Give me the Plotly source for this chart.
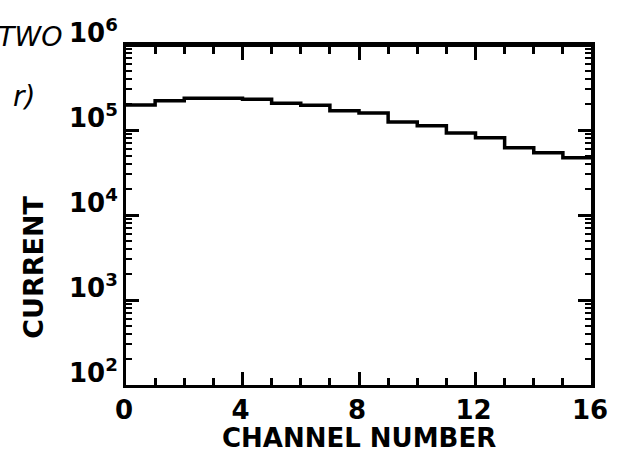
import plotly.graph_objects as go

# Data
channel_edges = list(range(0, 17))
current_values = [1.97e5, 2.21e5, 2.36e5, 2.36e5, 2.30e5, 2.06e5, 1.95e5, 1.69e5,
                  1.58e5, 1.24e5, 1.12e5, 9.2e4, 8.1e4, 6.2e4, 5.4e4, 4.7e4]
x_tick_vals = [0, 4, 8, 12, 16]
x_tick_text = ["0", "4", "8", "12", "16"]
y_tick_vals = [1e2, 1e3, 1e4, 1e5, 1e6]
y_tick_text = ["10<sup>2</sup>", "10<sup>3</sup>", "10<sup>4</sup>", "10<sup>5</sup>", "10<sup>6</sup>"]
y_minor_vals = [m * 10 ** k for k in range(2, 6) for m in range(2, 10)]

step_y = current_values + [current_values[-1]]

FONT = "DejaVu Sans"

fig = go.Figure()
fig.add_trace(go.Scatter(
    x=channel_edges, y=step_y, mode="lines",
    line=dict(shape="hv", color="black", width=3.5),
    showlegend=False, hoverinfo="skip"))
# invisible trace so the mirrored tick axes render
fig.add_trace(go.Scatter(x=[0], y=[1e3], xaxis="x2", yaxis="y2", mode="markers",
                         marker=dict(opacity=0), showlegend=False, hoverinfo="skip"))

common_tick = dict(ticks="inside", ticklen=13, tickwidth=2.5, tickcolor="black",
                   showgrid=False, zeroline=False)

fig.update_layout(
    xaxis=dict(range=[0, 16], tickvals=x_tick_vals, ticktext=x_tick_text,
               showline=True, linewidth=3, linecolor="black", mirror="allticks",
               ticklabeloverflow="allow", ticklabelshift=-2,
               tickfont=dict(family=FONT, size=26, color="black", weight="bold"),
               minor=dict(dtick=1, ticks="inside", ticklen=7, tickwidth=2.5,
                          tickcolor="black", showgrid=False),
               **common_tick),
    xaxis2=dict(range=[0, 16], overlaying="x", side="top", anchor="free", position=1.0,
                tickvals=x_tick_vals, showticklabels=False,
                showline=True, linewidth=3, linecolor="black",
                minor=dict(dtick=1, ticks="inside", ticklen=7, tickwidth=2.5,
                           tickcolor="black", showgrid=False),
                **common_tick),
    yaxis=dict(type="log", range=[2, 6], tickvals=y_tick_vals, ticktext=y_tick_text,
               showline=True, linewidth=3, linecolor="black", mirror=True,
               ticklabelshift=-12, ticklabeloverflow="allow",
               tickfont=dict(family=FONT, size=26, color="black", weight="bold"),
               minor=dict(tickvals=y_minor_vals, ticks="inside", ticklen=6, tickwidth=2,
                          tickcolor="black", showgrid=False),
               **common_tick),
    yaxis2=dict(type="log", range=[2, 6], overlaying="y", side="right", anchor="free", position=1.0,
                tickvals=y_tick_vals, showticklabels=False,
                showline=True, linewidth=3, linecolor="black",
                minor=dict(tickvals=y_minor_vals, ticks="inside", ticklen=6, tickwidth=2,
                           tickcolor="black", showgrid=False),
                **common_tick),
)

fig.add_annotation(text="CHANNEL NUMBER", xref="paper", yref="paper",
                   x=0.5, y=-0.155, yanchor="middle", xanchor="center", showarrow=False,
                   font=dict(family=FONT, size=26, color="black", weight="bold"))
fig.add_annotation(text="CURRENT", xref="paper", yref="paper",
                   x=-0.2, y=0.347, textangle=-90, xanchor="center", yanchor="middle", showarrow=False,
                   font=dict(family=FONT, size=27, color="black", weight="bold"))
fig.add_annotation(text="<i>TWO</i>", xref="paper", yref="paper",
                   x=-0.134, y=1.024, xanchor="right", yanchor="middle", showarrow=False,
                   font=dict(family=FONT, size=27, color="black"))
fig.add_annotation(text="<i>r)</i>", xref="paper", yref="paper",
                   x=-0.19, y=0.85, xanchor="right", yanchor="middle", showarrow=False,
                   font=dict(family=FONT, size=28, color="black"))

fig.update_layout(
    width=620, height=454,
    margin=dict(l=126, r=16, t=45, b=69),
    paper_bgcolor="white", plot_bgcolor="white",
)

fig.write_html("out.html", config={"displayModeBar": False},
               post_script="document.body.style.margin='0px';document.body.style.overflow='hidden';")
